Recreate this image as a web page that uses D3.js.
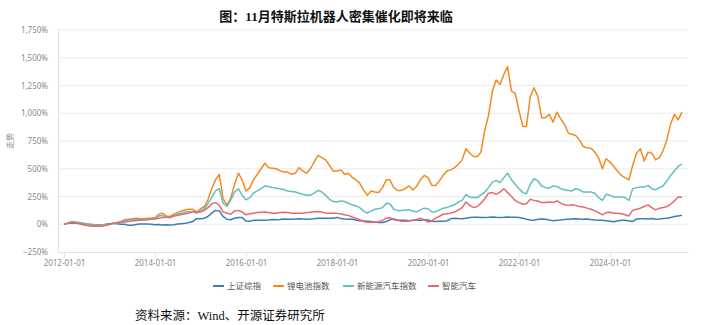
<!DOCTYPE html>
<html>
<head>
<meta charset="utf-8">
<script src="https://cdn.jsdelivr.net/npm/d3@7/dist/d3.min.js"></script>
<style>
  html, body { margin: 0; padding: 0; background: #fff; }
  svg { display: block; }
</style>
</head>
<body>
<svg id="chart" width="702" height="325"></svg>
<script>
// monthly points, first one is 2012-01
const startYear = 2012;
const seriesNames = ["上证综指", "锂电池指数", "新能源汽车指数", "智能汽车"];
const seriesColors = ["#3b7fb1", "#f48a1f", "#5fc0c0", "#e5696d"];

const shIndex = [
  0, 8, 12, 8, 10, 5, -2, -8, -8, -5, -10, 0,
  5, 10, 5, 0, 0, -10, -8, -2, 2, 2, 3, 0,
  -5, -3, -6, -5, -6, -5, 2, 5, 8, 15, 25, 50,
  50, 55, 70, 100, 125, 120, 70, 45, 40, 55, 60, 60,
  30, 28, 35, 35, 35, 35, 38, 42, 40, 42, 48, 45,
  45, 48, 50, 48, 45, 47, 50, 55, 55, 55, 55, 55,
  62, 52, 48, 45, 45, 38, 32, 30, 28, 25, 20, 15,
  15, 25, 40, 48, 38, 35, 35, 32, 35, 35, 35, 40,
  38, 28, 24, 28, 28, 30, 50, 55, 52, 50, 55, 60,
  62, 62, 60, 60, 62, 65, 62, 60, 62, 65, 62, 62,
  60, 55, 45, 38, 35, 45, 48, 45, 38, 32, 36, 38,
  42, 45, 48, 50, 48, 45, 48, 42, 38, 36, 35, 32,
  28, 22, 30, 35, 36, 30, 24, 48, 50, 50, 48, 52,
  45, 48, 52, 55, 60, 70, 75, 80
];
const lithium = [
  0, 10, 25, 20, 15, 10, 5, 0, -5, -10, -10, -5,
  0, 10, 15, 25, 40, 45, 50, 55, 52, 50, 55, 55,
  60, 90, 100, 75, 70, 90, 105, 120, 130, 135, 135, 110,
  140, 160, 220, 320, 400, 450, 230, 175, 235, 360, 460, 400,
  300, 330, 400, 450, 500, 550, 510, 505, 500, 480, 470, 470,
  450, 460, 510, 480, 460, 500, 560, 620, 600, 580, 530, 480,
  480, 490, 450, 460, 425, 400, 370, 310, 260, 300, 290, 285,
  330, 400, 400, 330, 305, 305, 320, 345, 310, 340, 400, 440,
  420, 350, 350, 390, 440, 480, 490, 510, 540, 580, 680, 640,
  610, 610, 650, 850, 980, 1200, 1300, 1260, 1350, 1420, 1200, 1180,
  1020, 880, 880, 1150, 1230, 1150, 960, 960, 990, 920, 1010, 950,
  900, 820, 810, 800, 760, 700, 690, 685, 650, 600, 500, 590,
  560, 520, 480, 440, 420, 400, 530, 640, 680, 570, 650, 640,
  580, 600, 660, 760, 900, 990, 940, 1010
];
const nevIndex = [
  0, 10, 22, 18, 15, 8, 3, -2, -8, -12, -12, -8,
  -3, 8, 12, 20, 32, 38, 42, 45, 42, 40, 45, 45,
  50, 75, 80, 62, 58, 75, 90, 100, 110, 115, 112, 100,
  125, 140, 185, 240, 300, 320, 190, 160, 220, 290, 320, 260,
  220, 240, 280, 300, 320, 345, 340, 330, 325, 320, 310, 300,
  295, 290, 280, 270, 262, 262, 280, 305, 290, 260, 225, 205,
  200, 210, 205, 190, 175, 165, 150, 120, 100, 120, 135, 140,
  150, 190, 185, 135, 125, 125, 128, 128, 120, 110, 130, 145,
  140, 110, 112, 130, 145, 150, 165, 175, 200, 215, 270, 245,
  240, 240, 265, 290, 330, 380, 395, 375, 420, 460, 400, 360,
  320, 285, 275, 360, 410, 390, 345, 330, 325, 345, 340, 320,
  310, 305, 300, 320, 310, 290, 290, 290, 280, 240, 215, 270,
  260, 245, 245, 245, 240, 215, 320, 330, 335, 335, 350, 320,
  310, 330, 345, 390, 440, 480, 520, 545
];
const smartCar = [
  0, 8, 15, 12, 5, -5, -12, -15, -18, -18, -18, -10,
  0, 8, 12, 18, 20, 25, 30, 33, 36, 38, 40, 45,
  48, 55, 60, 62, 65, 75, 80, 88, 95, 100, 115, 110,
  110, 125, 150, 185, 195, 170, 110, 100, 90, 120, 125, 110,
  85, 95, 100, 105, 108, 110, 105, 100, 100, 105, 108, 105,
  100, 100, 98, 100, 105, 108, 112, 115, 110, 100, 98, 100,
  98, 92, 85, 80, 65, 55, 40, 25, 18, 18, 20, 22,
  35, 55, 60, 40, 35, 28, 27, 30, 36, 40, 55, 40,
  20, 30, 55, 70, 90, 95, 100, 110, 130, 150, 200, 170,
  150, 160, 190, 230, 280, 285, 270, 290, 320, 285, 250, 215,
  195, 180, 185, 225, 215, 210, 195, 195, 200, 195, 210, 190,
  175, 170, 175, 170, 160, 155, 145, 135, 120, 105, 85, 105,
  108, 100, 100, 95, 85, 75, 125, 135, 145, 160, 175, 150,
  130, 145, 150, 160, 180, 210, 245, 240
];
const allSeries = [shIndex, lithium, nevIndex, smartCar];

const yTicks = [-250, 0, 250, 500, 750, 1000, 1250, 1500, 1750];
const xTicks = ["2012-01-01", "2014-01-01", "2016-01-01", "2018-01-01", "2020-01-01", "2022-01-01", "2024-01-01"];

const titleText = "图：11月特斯拉机器人密集催化即将来临";
const sourceText = "资料来源：Wind、开源证券研究所";
const yLabel = "走势";

const svg = d3.select("#chart");
const plotL = 58, plotR = 688, plotT = 30, plotB = 252;
const sansCn = "'Noto Sans CJK SC', 'Noto Sans', sans-serif";
const serifCn = "'Liberation Serif', 'Noto Sans CJK SC', serif";

const parse = d3.timeParse("%Y-%m-%d");
const x0 = d3.scaleTime().domain([parse("2012-01-01"), parse("2024-01-01")]).range([64, 610]);
const x = d3.scaleTime().domain([x0.invert(plotL), x0.invert(plotR)]).range([plotL, plotR]);
const y = d3.scaleLinear().domain([-250, 1750]).range([plotB, plotT]);

// title
svg.append("text")
  .attr("x", 336).attr("y", 21)
  .attr("text-anchor", "middle")
  .style("font-family", serifCn).style("font-size", "13px").style("font-weight", "700")
  .style("fill", "#111")
  .text(titleText);

// grid
svg.append("g").selectAll("line").data(yTicks.filter(d => d > -250)).join("line")
  .attr("x1", plotL).attr("x2", plotR)
  .attr("y1", d => y(d)).attr("y2", d => y(d))
  .attr("stroke", "#ececec").attr("stroke-width", 1);

// y axis
svg.append("g")
  .attr("transform", `translate(${plotL},0)`)
  .call(d3.axisLeft(y).tickValues(yTicks).tickSize(0).tickFormat(d => d3.format(",")(d) + "%"))
  .call(ax => {
    ax.select(".domain").attr("stroke", "#dbe3ec");
    ax.selectAll(".tick text")
      .attr("x", -10)
      .style("fill", "#8a8a8a").style("font-size", "8px").style("font-family", "'Noto Sans', sans-serif");
  });

svg.append("text")
  .attr("transform", `translate(13,${(plotT + plotB) / 2}) rotate(-90)`)
  .attr("text-anchor", "middle")
  .style("font-family", sansCn).style("font-size", "8px").style("fill", "#8a8a8a")
  .text(yLabel);

// x axis
svg.append("g")
  .attr("transform", `translate(0,${plotB})`)
  .call(d3.axisBottom(x).tickValues(xTicks.map(parse)).tickSize(5).tickSizeOuter(0).tickFormat(d3.timeFormat("%Y-%m-%d")))
  .call(ax => {
    ax.select(".domain").attr("stroke", "#dbe3ec");
    ax.selectAll(".tick line").attr("stroke", "#dbe3ec");
    ax.selectAll(".tick text")
      .attr("y", 8)
      .style("fill", "#8a8a8a").style("font-size", "8px").style("font-family", "'Noto Sans', sans-serif");
  });

// lines
const line = d3.line()
  .x((d, i) => x(new Date(startYear, i, 1)))
  .y(d => y(d));

svg.append("g").selectAll("path").data(allSeries).join("path")
  .attr("d", d => line(d))
  .attr("fill", "none")
  .attr("stroke", (d, i) => seriesColors[i])
  .attr("stroke-width", 1.5)
  .attr("stroke-linejoin", "round");

// legend
const legendX = [213, 273, 343, 428];
const lg = svg.append("g").selectAll("g").data(seriesNames).join("g")
  .attr("transform", (d, i) => `translate(${legendX[i]},286)`);
lg.append("line")
  .attr("x1", 0).attr("x2", 11)
  .attr("stroke", (d, i) => seriesColors[i]).attr("stroke-width", 2);
lg.append("text")
  .attr("x", 14).attr("dy", "0.35em")
  .style("font-family", sansCn).style("font-size", "8.5px").style("fill", "#555")
  .text(d => d);

// source
svg.append("text")
  .attr("x", 135).attr("y", 320)
  .style("font-family", serifCn).style("font-size", "12.5px").style("fill", "#111")
  .text(sourceText);
</script>
</body>
</html>
